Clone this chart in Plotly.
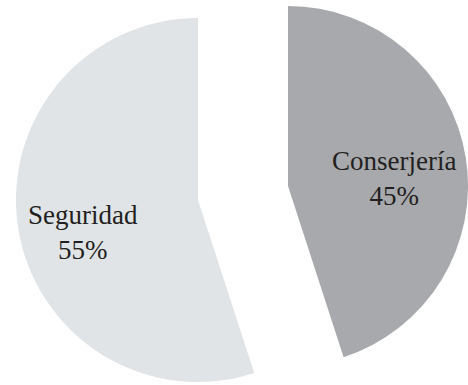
import plotly.graph_objects as go

# Share of staff by service
labels = ["Conserjería", "Seguridad"]
values = [45, 55]
colors = ["#a7a9ac", "#e1e4e7"]

# Each slice is drawn by its own pie trace (the other slice left transparent),
# so the two halves can sit apart without shrinking the radius.
domains = [
    dict(x=[108 / 468, 1.0], y=[19 / 385, 379 / 385]),        # Conserjería, shifted right/up
    dict(x=[16 / 468, 380 / 468], y=[3 / 385, 367 / 385]),    # Seguridad, shifted left/down
]
label_pos = [(0.841, 0.537), (0.178, 0.397)]

fig = go.Figure()
total = sum(values)
for i, name in enumerate(labels):
    slice_colors = [c if j == i else "rgba(0,0,0,0)" for j, c in enumerate(colors)]
    fig.add_trace(go.Pie(
        labels=labels,
        values=values,
        sort=False,
        direction="clockwise",
        rotation=0,
        marker=dict(colors=slice_colors, line=dict(width=0)),
        textinfo="none",
        hoverinfo="skip",
        domain=domains[i],
        showlegend=False,
    ))
    pct = round(values[i] / total * 100)
    fig.add_annotation(
        x=label_pos[i][0], y=label_pos[i][1], xref="paper", yref="paper",
        text=f"{name}<br>{pct}%",
        showarrow=False, align="center",
        xanchor="center", yanchor="middle",
        font=dict(family="Liberation Serif", size=27, color="#231f20"),
    )

fig.update_layout(
    width=468, height=385,
    margin=dict(l=0, r=0, t=0, b=0),
    paper_bgcolor="white", plot_bgcolor="white",
)

fig.write_html("out.html")
